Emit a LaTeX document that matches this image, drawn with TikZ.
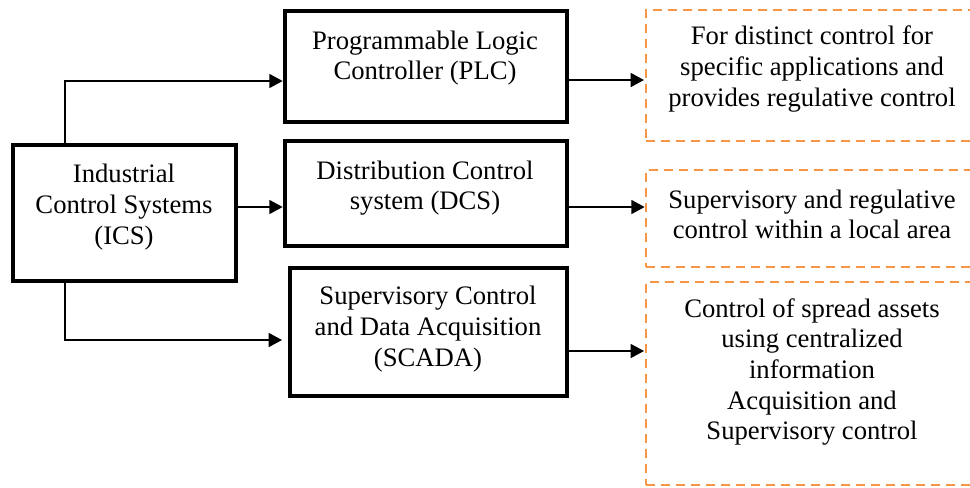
\documentclass[tikz,border=0pt]{standalone}
\usepackage{fontspec}
\setmainfont{Liberation Serif}
\usetikzlibrary{arrows.meta}
\definecolor{dashorange}{RGB}{247,150,70}
\begin{document}
\begin{tikzpicture}[x=0.75pt,y=-0.75pt,
  solidbox/.style={draw=black,line width=3.5pt,inner sep=0pt,outer sep=0pt},
  dashbox/.style={draw=dashorange,line width=1.7pt,dash pattern=on 6.75pt off 4.5pt,inner sep=0pt,outer sep=0pt},
  txt/.style={font=\fontsize{20}{23}\selectfont,align=center,inner sep=0pt},
  conn/.style={line width=1.1pt,-{Triangle[length=10pt,width=10.5pt]}}]
\useasboundingbox (0,0) rectangle (970,487);
\clip (0,0) rectangle (970,487);
% boxes
\node[solidbox,minimum width=167.25pt,minimum height=102pt] (ICS) at (124.5,213) {};
\node[solidbox,minimum width=211.5pt,minimum height=83.25pt] (PLC) at (426,66.5) {};
\node[solidbox,minimum width=211.5pt,minimum height=78.75pt] (DCS) at (426,193.5) {};
\node[solidbox,minimum width=207.75pt,minimum height=96pt] (SCADA) at (428.5,332) {};
\node[dashbox,minimum width=255pt,minimum height=98.25pt] (D1) at (816,75.5) {};
\node[dashbox,minimum width=255pt,minimum height=72.75pt] (D2) at (816,218.5) {};
\node[dashbox,minimum width=255pt,minimum height=152.25pt] (D3) at (816,383.5) {};
% texts
\node[txt] (tICS) at (124,207) {Industrial\\Control Systems\\(ICS)};
\node[txt] (tPLC) at (425,58) {Programmable Logic\\Controller (PLC)};
\node[txt] (tDCS) at (425,188) {Distribution Control\\system (DCS)};
\node[txt] (tSCADA) at (428,329) {Supervisory Control\\and Data Acquisition\\(SCADA)};
\node[txt] (tD1) at (812,69) {For distinct control for\\specific applications and\\provides regulative control};
\node[txt] (tD2) at (812,214.5) {Supervisory and regulative\\control within a local area};
\node[txt] (tD3) at (812,372) {Control of spread assets\\using centralized\\information\\Acquisition and\\Supervisory control};
% connector helpers
\coordinate (k1) at (65,81);
\coordinate (k2) at (0,207);
\coordinate (k3) at (65,340);
\coordinate (k4) at (0,80);
\coordinate (k5) at (0,351);
% connectors
\draw[conn,shorten >=1.75pt] (ICS.north -| k1) |- (PLC.west |- k1);
\draw[conn,shorten >=1.75pt] (ICS.east |- k2) -- (DCS.west |- k2);
\draw[conn,shorten >=6pt] (ICS.south -| k3) |- (SCADA.west |- k3);
\draw[conn,shorten >=1.5pt] (PLC.east |- k4) -- (D1.west |- k4);
\draw[conn,shorten >=1pt] (DCS.east |- k2) -- (D2.west |- k2);
\draw[conn,shorten >=1.5pt] (SCADA.east |- k5) -- (D3.west |- k5);
\end{tikzpicture}
\end{document}
